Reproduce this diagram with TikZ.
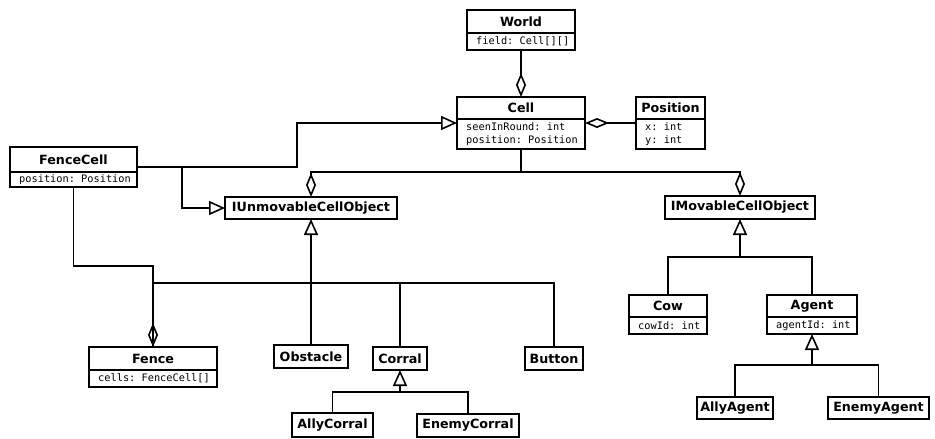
\documentclass[tikz,border=0pt]{standalone}
\usepackage{fontspec}
\setmainfont{DejaVu Sans}
\setmonofont{DejaVu Sans Mono}
\usetikzlibrary{arrows.meta}
\tikzset{
  box/.style={draw, line width=1.6pt, inner sep=0pt, outer sep=0pt, font=\fontsize{12.7}{15}\selectfont\bfseries},
  titletext/.style={inner sep=0pt, font=\fontsize{12.7}{15}\selectfont\bfseries},
  attrtext/.style={inner sep=0pt, align=left, font=\fontsize{10.3}{13.3}\selectfont\ttfamily},
  boxline/.style={line width=1.6pt},
  conn/.style={line width=1.6pt},
  gen/.style={conn, -{Triangle[open, length=16pt, width=14pt]}},
  agg/.style={conn, -{Diamond[open, length=24pt, width=10pt]}}
}
% name, left, right, top, bottom, title
\newcommand\klass[6]{%
  \node[box, minimum width={#3-#2}, minimum height={#5-#4}] (#1) at ({(#2+#3)/2},{(#4+#5)/2}) {#6};}
% name, left, right, top, divider, bottom, title, attributes
\newcommand\klassattr[8]{%
  \node[box, minimum width={#3-#2}, minimum height={#6-#4}] (#1) at ({(#2+#3)/2},{(#4+#6)/2}) {};
  \node[titletext] (#1-t) at ({(#2+#3)/2},{(#4+#5)/2}) {#7};
  \draw[boxline] (#1.west |- 0,#5) -- (#1.east |- 0,#5);
  \node[attrtext, anchor=west] (#1-a) at ({#2+9},{(#5+#6)/2}) {#8};}
\begin{document}
\begin{tikzpicture}[x=1pt, y=-1pt]
\useasboundingbox (0,0) rectangle (935,439);

\klassattr{world}{467}{575}{10}{33}{50}{World}{field: Cell[][]}
\klassattr{cell}{457}{585}{97}{119}{149}{Cell}{seenInRound: int\\position: Position}
\klassattr{position}{636}{705}{97}{119}{149}{Position}{x: int\\y: int}
\klassattr{fencecell}{10}{137}{147}{172}{187}{FenceCell}{position: Position}
\klass{iunmov}{225}{397}{197}{219}{IUnmovableCellObject}
\klass{imov}{665}{815}{196}{219}{IMovableCellObject}
\klassattr{cow}{629}{707}{295}{317}{334}{Cow}{cowId: int}
\klassattr{agent}{767}{857}{295}{317}{334}{Agent}{agentId: int}
\klass{allyagent}{697}{773}{397}{419}{AllyAgent}
\klass{enemyagent}{828}{929}{397}{419}{EnemyAgent}
\klassattr{fence}{89}{217}{347}{370}{387}{Fence}{cells: FenceCell[]}
\klass{obstacle}{274}{348}{345}{368}{Obstacle}
\klass{corral}{373}{427}{347}{370}{Corral}
\klass{button}{525}{583}{347}{370}{Button}
\klass{allycorral}{292}{373}{413}{437}{AllyCorral}
\klass{enemycorral}{417}{519}{414}{437}{EnemyCorral}

% aggregations at the top
\draw[agg] (world) -- (cell);
\draw[agg] (position) -- (cell);

% FenceCell generalizations
\draw[gen] (fencecell.east) -- ++(160,0) |- (cell.west);
\draw[gen] (fencecell.east) -- ++(45,0) |- (iunmov.west);

% Cell aggregates the two interfaces
\draw[conn] (cell.south) -- ++(0,23) coordinate (cj);
\draw[agg] (cj) -| (iunmov.north);
\draw[agg] (cj) -| (imov.north);

% IUnmovableCellObject hierarchy
\coordinate (tj) at (311,283);
\draw[gen] (obstacle.north) -- (iunmov.south);
\draw[conn] (tj) -| (fence.north);
\draw[conn] (tj) -| (corral.north);
\draw[conn] (tj) -| (button.north);

% FenceCell - Fence aggregation
\draw[agg] (fencecell.south) -- ++(0,79) -| (fence.north);

% Corral hierarchy
\coordinate (crj) at (400,392);
\draw[gen] (crj) -- (corral.south);
\draw[conn] (crj) -| (allycorral.north);
\draw[conn] (crj) -| (enemycorral.north);

% IMovableCellObject hierarchy
\coordinate (mj) at (740,257);
\draw[gen] (mj) -- (imov.south);
\draw[conn] (mj) -| (cow.north);
\draw[conn] (mj) -| (agent.north);

% Agent hierarchy
\coordinate (aj) at (812,365);
\draw[gen] (aj) -- (agent.south);
\draw[conn] (aj) -| (allyagent.north);
\draw[conn] (aj) -| (enemyagent.north);
\end{tikzpicture}
\end{document}
